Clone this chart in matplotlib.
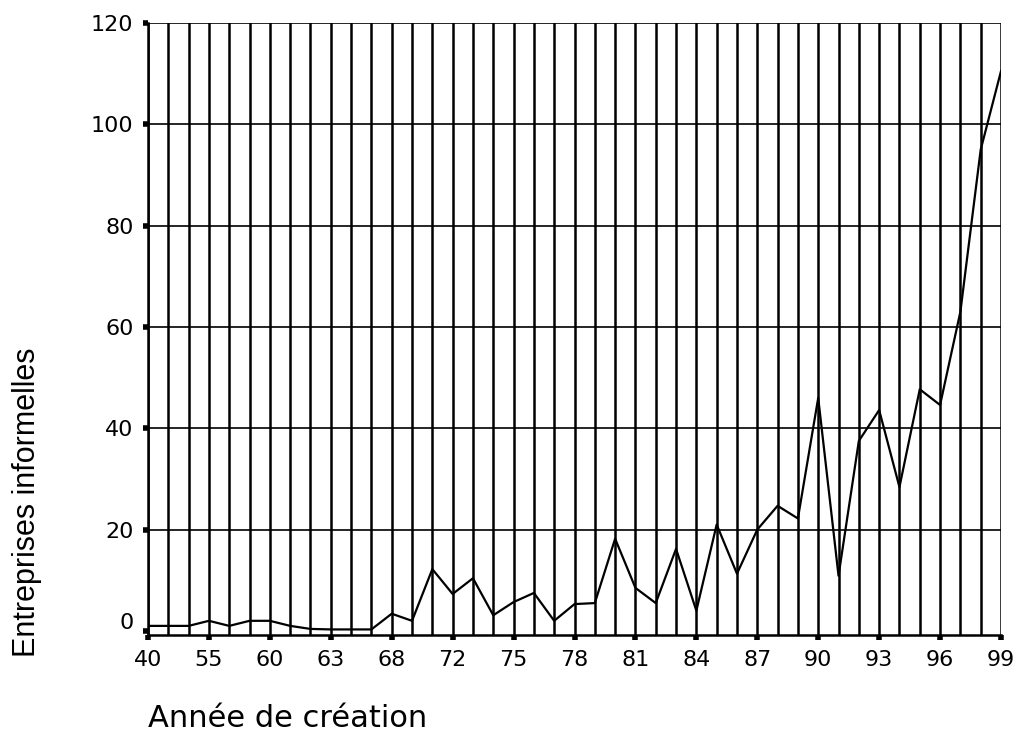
import matplotlib
matplotlib.use("Agg")
import matplotlib.pyplot as plt
from matplotlib.transforms import ScaledTranslation

# years on the x axis (one category per vertical line), labelled every 3rd
years = [40, 45, 50, 55, 57, 58, 60, 61, 62, 63, 65, 67, 68, 70, 71,
         72, 73, 74, 75, 76, 77, 78, 79, 80, 81, 82, 83, 84, 85, 86,
         87, 88, 89, 90, 91, 92, 93, 94, 95, 96, 97, 98, 99]
entreprises = [1, 1, 1, 2, 1, 2, 2, 1, 0.4, 0.3, 0.3, 0.3, 3.4, 2, 12.2,
               7.3, 10.4, 3.1, 5.7, 7.5, 2, 5.3, 5.5, 18.2, 8.5, 5.5, 16.2, 4, 21, 11.3,
               20, 24.7, 22.2, 46, 10.9, 37.5, 43.6, 28.4, 47.7, 44.6, 63, 95, 110.5]
y_ticks = [0, 20, 40, 60, 80, 100, 120]

plt.rcParams["font.family"] = ["DejaVu Sans"]

fig = plt.figure(figsize=(10.21, 7.36), dpi=100)
ax = fig.add_axes([148 / 1021, 101 / 736, 853 / 1021, 612 / 736])

pos = list(range(len(years)))
for p in pos:
    ax.axvline(p, color="black", lw=1.8, zorder=1)
for t in y_ticks[1:]:
    ax.axhline(t, color="black", lw=1.2, zorder=1)

ax.plot(pos, entreprises, color="black", lw=1.6, zorder=3)

ax.set_xlim(0, len(years) - 1)
ax.set_ylim(-0.8, 120)
ax.set_xticks(pos[::3])
ax.set_xticklabels([str(y) for y in years[::3]], fontsize=16)
ax.set_yticks(y_ticks)
ax.set_yticklabels([str(t) for t in y_ticks], fontsize=16)
ax.tick_params(axis="both", direction="out", length=3.5, width=4, color="black")
ax.tick_params(axis="x", pad=7)
ax.tick_params(axis="y", pad=7)

# the "0" label sits a bit above its tick in the original
lab0 = ax.get_yticklabels()[0]
lab0.set_transform(lab0.get_transform() + ScaledTranslation(0, 7 / 72, fig.dpi_scale_trans))

for s in ["top", "right"]:
    ax.spines[s].set_visible(False)
ax.spines["left"].set_linewidth(1.8)
ax.spines["bottom"].set_linewidth(1.8)

fig.text(27 / 1021, 1 - 502 / 736, "Entreprises informelles", fontsize=22,
         family=["Liberation Sans", "DejaVu Sans"], rotation=90,
         ha="center", va="center")
fig.text(148 / 1021, 9 / 736, "Année de création", fontsize=22,
         ha="left", va="baseline")

fig.savefig("out.png", dpi=100)
